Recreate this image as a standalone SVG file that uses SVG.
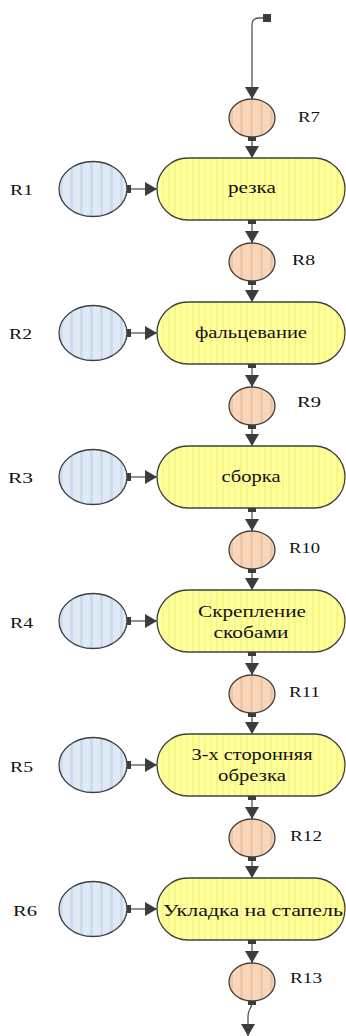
<svg xmlns="http://www.w3.org/2000/svg" width="346" height="1036" viewBox="0 0 346 1036">
  <defs>
    <!-- vertical stripe fills -->
    <pattern id="stripeYellow" patternUnits="userSpaceOnUse" width="6" height="10">
      <rect width="6" height="10" fill="#ffff9c"/>
      <rect x="0" width="2" height="10" fill="#f9f688"/>
    </pattern>
    <pattern id="stripeBlue" patternUnits="userSpaceOnUse" width="10" height="10">
      <rect width="10" height="10" fill="#e0eaf4"/>
      <rect x="0" width="3" height="10" fill="#cadcee"/>
    </pattern>
    <pattern id="stripeOrange" patternUnits="userSpaceOnUse" width="10" height="10">
      <rect width="10" height="10" fill="#f8d6bb"/>
      <rect x="0" width="3" height="10" fill="#f2c5a3"/>
    </pattern>
    <marker id="arrow" markerUnits="userSpaceOnUse" markerWidth="14" markerHeight="14" viewBox="0 0 12 14" refX="12" refY="7" orient="auto">
      <path d="M0,0 L12,7 L0,14 Z" fill="#3c3c3c"/>
    </marker>
    <marker id="dot" markerUnits="userSpaceOnUse" markerWidth="8" markerHeight="8" viewBox="0 0 8 8" refX="4" refY="4" orient="auto">
      <rect width="8" height="8" fill="#3c3c3c"/>
    </marker>
  </defs>
  <style>
    .proc { fill: url(#stripeYellow); stroke: #404040; stroke-width: 1.3; }
    .res { fill: url(#stripeBlue); stroke: #404040; stroke-width: 1.3; }
    .state { fill: url(#stripeOrange); stroke: #404040; stroke-width: 1.3; }
    .conn { fill: none; stroke: #555555; stroke-width: 1.3; marker-start: url(#dot); marker-end: url(#arrow); }
    text { font-family: "Liberation Serif", "DejaVu Serif", "Times New Roman", serif; fill: #111111; }
    .lbl { font-size: 15px; }
    .ptxt { font-size: 17px; text-anchor: middle; }
  </style>

  <!-- connectors -->
  <g id="connectors">
    <path class="conn" d="M267,18 H259 Q252,18 252,25 V99"/>
    <path class="conn" d="M252,137 V158"/>
    <path class="conn" d="M252,220 V243"/>
    <path class="conn" d="M252,281 V302"/>
    <path class="conn" d="M252,364 V387"/>
    <path class="conn" d="M252,425 V446"/>
    <path class="conn" d="M252,508 V531"/>
    <path class="conn" d="M252,569 V590"/>
    <path class="conn" d="M252,652 V675"/>
    <path class="conn" d="M252,713 V734"/>
    <path class="conn" d="M252,796 V819"/>
    <path class="conn" d="M252,857 V878"/>
    <path class="conn" d="M252,940 V963"/>
    <path class="conn" d="M252,1001 Q252,1006 250,1009 Q248,1012 248,1016 V1036"/>
    <path class="conn" d="M127,189 H157"/>
    <path class="conn" d="M127,333 H157"/>
    <path class="conn" d="M127,477 H157"/>
    <path class="conn" d="M127,621 H157"/>
    <path class="conn" d="M127,765 H157"/>
    <path class="conn" d="M127,909 H157"/>
  </g>

  <!-- process steps -->
  <g id="p1"><rect class="proc" x="157" y="158" width="188" height="62" rx="31"/>
    <text class="ptxt" font-family="Liberation Serif, serif" x="252" y="193" textLength="48" lengthAdjust="spacingAndGlyphs">резка</text></g>
  <g id="p2"><rect class="proc" x="157" y="302" width="188" height="62" rx="31"/>
    <text class="ptxt" font-family="Liberation Serif, serif" x="251" y="338" textLength="112" lengthAdjust="spacingAndGlyphs">фальцевание</text></g>
  <g id="p3"><rect class="proc" x="157" y="446" width="188" height="62" rx="31"/>
    <text class="ptxt" font-family="Liberation Serif, serif" x="251" y="482" textLength="59" lengthAdjust="spacingAndGlyphs">сборка</text></g>
  <g id="p4"><rect class="proc" x="157" y="590" width="188" height="62" rx="31"/>
    <text class="ptxt" font-family="Liberation Serif, serif" x="252" y="617" textLength="108" lengthAdjust="spacingAndGlyphs">Скрепление</text>
    <text class="ptxt" font-family="Liberation Serif, serif" x="251" y="638" textLength="75" lengthAdjust="spacingAndGlyphs">скобами</text></g>
  <g id="p5"><rect class="proc" x="157" y="734" width="188" height="62" rx="31"/>
    <text class="ptxt" font-family="Liberation Serif, serif" x="252" y="760" textLength="121" lengthAdjust="spacingAndGlyphs">3-х сторонняя</text>
    <text class="ptxt" font-family="Liberation Serif, serif" x="252" y="781" textLength="68" lengthAdjust="spacingAndGlyphs">обрезка</text></g>
  <g id="p6"><rect class="proc" x="157" y="878" width="188" height="62" rx="31"/>
    <text class="ptxt" font-family="Liberation Serif, serif" x="253" y="916" textLength="180" lengthAdjust="spacingAndGlyphs">Укладка на стапель</text></g>

  <!-- resources -->
  <g id="r1"><ellipse class="res" cx="93" cy="189" rx="34" ry="27.5"/>
    <text class="lbl" x="10" y="195" textLength="23" lengthAdjust="spacingAndGlyphs">R1</text></g>
  <g id="r2"><ellipse class="res" cx="93" cy="333" rx="34" ry="27.5"/>
    <text class="lbl" x="9" y="339" textLength="23" lengthAdjust="spacingAndGlyphs">R2</text></g>
  <g id="r3"><ellipse class="res" cx="93" cy="477" rx="34" ry="27.5"/>
    <text class="lbl" x="8" y="483" textLength="25" lengthAdjust="spacingAndGlyphs">R3</text></g>
  <g id="r4"><ellipse class="res" cx="93" cy="621" rx="34" ry="27.5"/>
    <text class="lbl" x="10" y="628" textLength="23" lengthAdjust="spacingAndGlyphs">R4</text></g>
  <g id="r5"><ellipse class="res" cx="93" cy="765" rx="34" ry="27.5"/>
    <text class="lbl" x="10" y="772" textLength="23" lengthAdjust="spacingAndGlyphs">R5</text></g>
  <g id="r6"><ellipse class="res" cx="93" cy="909" rx="34" ry="27.5"/>
    <text class="lbl" x="13" y="916" textLength="24" lengthAdjust="spacingAndGlyphs">R6</text></g>

  <!-- intermediate states -->
  <g id="s7"><ellipse class="state" cx="252" cy="118" rx="23" ry="19"/>
    <text class="lbl" x="298" y="122" textLength="22" lengthAdjust="spacingAndGlyphs">R7</text></g>
  <g id="s8"><ellipse class="state" cx="252" cy="262" rx="23" ry="19"/>
    <text class="lbl" x="292" y="265" textLength="23" lengthAdjust="spacingAndGlyphs">R8</text></g>
  <g id="s9"><ellipse class="state" cx="252" cy="406" rx="23" ry="19"/>
    <text class="lbl" x="297" y="407" textLength="24" lengthAdjust="spacingAndGlyphs">R9</text></g>
  <g id="s10"><ellipse class="state" cx="252" cy="550" rx="23" ry="19"/>
    <text class="lbl" x="289" y="553" textLength="31" lengthAdjust="spacingAndGlyphs">R10</text></g>
  <g id="s11"><ellipse class="state" cx="252" cy="694" rx="23" ry="19"/>
    <text class="lbl" x="289" y="697" textLength="31" lengthAdjust="spacingAndGlyphs">R11</text></g>
  <g id="s12"><ellipse class="state" cx="252" cy="838" rx="23" ry="19"/>
    <text class="lbl" x="290" y="841" textLength="32" lengthAdjust="spacingAndGlyphs">R12</text></g>
  <g id="s13"><ellipse class="state" cx="252" cy="982" rx="23" ry="19"/>
    <text class="lbl" x="290" y="983" textLength="32" lengthAdjust="spacingAndGlyphs">R13</text></g>
</svg>
